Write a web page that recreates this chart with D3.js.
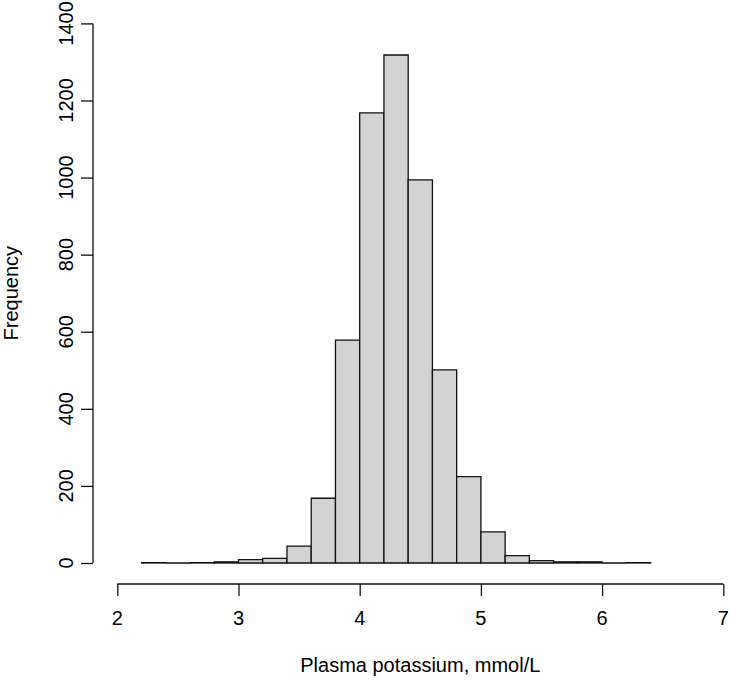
<!DOCTYPE html>
<html lang="en">
<head>
  <meta charset="utf-8" />
  <style>
    body { margin: 0; background: #fff; }
    svg { display: block; }
    text { font-family: "Liberation Sans", Arial, sans-serif; font-size: 20px; fill: #000; }
    .bar { fill: #d3d3d3; stroke: #111; stroke-width: 1.3px; }
    .axis line, .axis path { stroke: #111; stroke-width: 1.3px; fill: none; }
  </style>
</head>
<body>
<svg width="730" height="682"></svg>
<script src="https://d3js.org/d3.v7.min.js"></script>
<script>
// histogram bins (lower edge, width 0.2) and counts
var binStarts = [2.2, 2.4, 2.6, 2.8, 3.0, 3.2, 3.4, 3.6, 3.8, 4.0, 4.2,
                 4.4, 4.6, 4.8, 5.0, 5.2, 5.4, 5.6, 5.8, 6.0, 6.2],
    counts = [1, 0, 1, 3, 9, 12, 44, 168, 578, 1168, 1318,
              994, 501, 224, 81, 19, 6, 3, 3, 0, 1],
    binWidth = 0.2,
    xTicks = [2, 3, 4, 5, 6, 7],
    yTicks = [0, 200, 400, 600, 800, 1000, 1200, 1400],
    xTitle = "Plasma potassium, mmol/L",
    yTitle = "Frequency";

var svg = d3.select("svg");

var x = d3.scaleLinear().domain([2, 7]).range([117.3, 723.3]),
    y = d3.scaleLinear().domain([0, 1400]).range([563, 23.4]);

var bins = binStarts.map(function(s, i) { return { x0: s, x1: s + binWidth, n: counts[i] }; });

// drawn as paths so that empty bins still show as a flat line, like R does
svg.append("g").selectAll("path")
  .data(bins)
  .enter().append("path")
    .attr("class", "bar")
    .attr("d", function(d) {
      return "M" + x(d.x0) + "," + y(0) + "V" + y(d.n) + "H" + x(d.x1) + "V" + y(0) + "Z";
    });

// x axis, R style: line from first to last tick, ticks downward
var xAxis = svg.append("g")
    .attr("class", "axis")
    .attr("transform", "translate(0,584)")
    .call(d3.axisBottom(x).tickValues(xTicks).tickSize(12).tickSizeOuter(0));
xAxis.selectAll("text").remove();
xAxis.select(".domain").attr("d", "M" + x(2) + ",0H" + x(7));

svg.append("g").selectAll("text")
  .data(xTicks)
  .enter().append("text")
    .attr("x", function(d) { return x(d); })
    .attr("y", 625)
    .attr("text-anchor", "middle")
    .text(function(d) { return d; });

// y axis
var yAxis = svg.append("g")
    .attr("class", "axis")
    .attr("transform", "translate(93,0)")
    .call(d3.axisLeft(y).tickValues(yTicks).tickSize(12).tickSizeOuter(0));
yAxis.selectAll("text").remove();
yAxis.select(".domain").attr("d", "M0," + y(0) + "V" + y(1400));

svg.append("g").selectAll("text")
  .data(yTicks)
  .enter().append("text")
    .attr("transform", function(d) { return "translate(73," + y(d) + ") rotate(-90)"; })
    .attr("text-anchor", "middle")
    .text(function(d) { return d; });

svg.append("text")
  .attr("x", (x(2) + x(7)) / 2)
  .attr("y", 672)
  .attr("text-anchor", "middle")
  .text(xTitle);

svg.append("text")
  .attr("transform", "translate(18," + (y(0) + y(1400)) / 2 + ") rotate(-90)")
  .attr("text-anchor", "middle")
  .text(yTitle);
</script>
</body>
</html>
